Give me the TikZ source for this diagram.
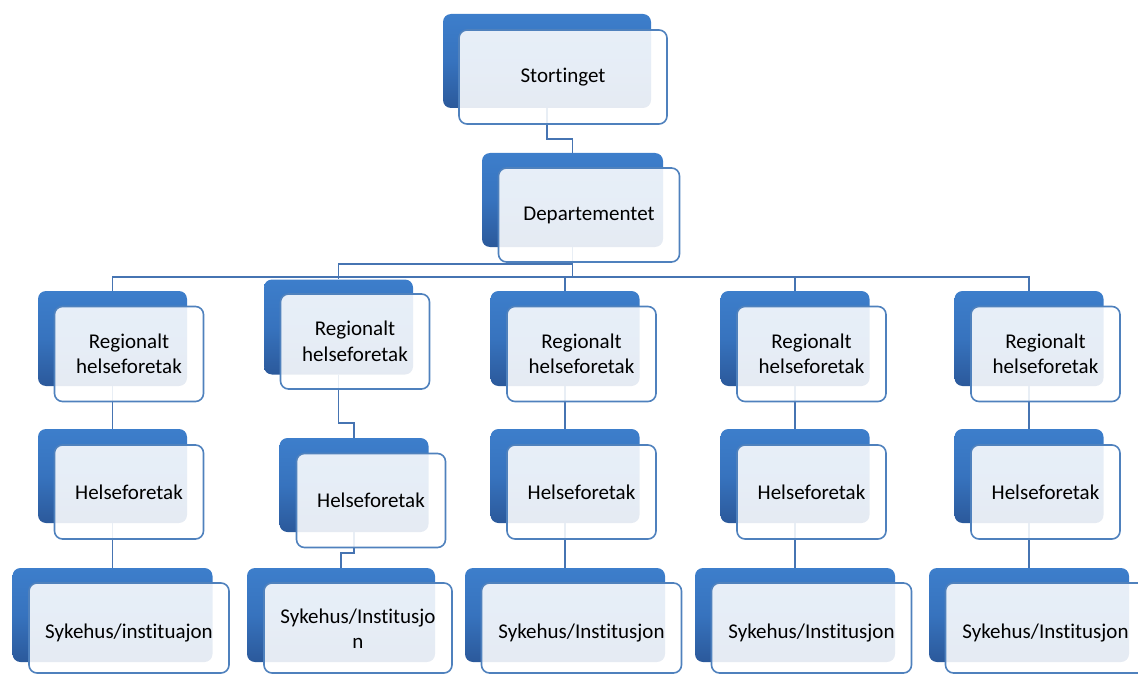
\documentclass[tikz,border=0pt]{standalone}
\usepackage{fontspec}
\setmainfont{Carlito}[Ligatures=NoCommon]
\definecolor{backtop}{RGB}{61,126,203}
\definecolor{backmid}{RGB}{55,115,190}
\definecolor{backbot}{RGB}{43,89,155}
\definecolor{framecol}{RGB}{79,129,189}
\definecolor{wirecol}{RGB}{70,116,178}
\tikzset{
  back/.style={rectangle, rounded corners=8pt, inner sep=0pt, draw=none,
    top color=backtop, bottom color=backbot, middle color=backmid},
  front/.style={rectangle, rounded corners=8pt, inner sep=0pt, draw=framecol,
    line width=1.6pt, fill=white, fill opacity=0.88, text opacity=1,
    align=center, text=black, font=\fontsize{21}{25.5}\selectfont},
  regsize/.style={minimum width=149pt, minimum height=95pt},
  hfsize/.style={minimum width=149pt, minimum height=94pt},
  syksize/.style={minimum width=#1, minimum height=94pt},
  sykfront/.style={minimum width=#1, minimum height=90pt},
  wire/.style={draw=wirecol, line width=1.6pt}
}
% text set a little lower than the centre of its card
\newcommand{\lowertext}[2]{\raisebox{-#1}[\height][\depth]{\begin{tabular}{@{}c@{}}#2\end{tabular}}}
\begin{document}
\begin{tikzpicture}[x=1pt, y=-1pt]
\useasboundingbox (0,0) rectangle (1138,674);
\clip (0,0) rectangle (1138,674);

% back plates
\node[back, minimum width=208pt, minimum height=94pt] (st) at (547,61) {};
\node[back, minimum width=181pt, minimum height=94pt] (dep) at (572.5,200) {};
\node[back, regsize] (r2) at (338.5,327) {};
\node[back, hfsize] (h2) at (354,485) {};
\node[back, syksize=188pt] (s2) at (341,615) {};
\foreach \n/\x in {1/112.5, 3/565, 4/795, 5/1029} {
  \node[back, regsize] (r\n) at (\x,338.5) {};
  \node[back, hfsize] (h\n) at (\x,476) {};
  \node[back, syksize=200pt] (s\n) at (\x,615) {};
}

% connectors
\draw[wire] (st.south) -- ++(0,31) -| (dep.north);
\draw[wire] (dep.south) -- ++(0,30) coordinate (bus);
\draw[wire] (dep.south) -- ++(0,17) -| (r2.north);
\foreach \n in {1,3,4,5} {
  \draw[wire] (r\n.north) |- (bus);
  \draw[wire] (r\n.south) -- (h\n.north);
  \draw[wire] (h\n.south) -- (s\n.north);
}
\draw[wire] (r2.south) -- ++(0,48) -| (h2.north);
\draw[wire] (h2.south) -- ++(0,21) -| (s2.north);

% front cards
\node[front, minimum width=208pt, minimum height=94pt] (stF) at (563,77) {Stortinget};
\node[front, minimum width=181pt, minimum height=94pt] (depF) at (589,215) {Departementet};
\node[front, regsize] (r2F) at (355,341.5) {Regionalt\\helseforetak};
\node[front, hfsize] (h2F) at (371,500.5) {Helseforetak};
\node[front, sykfront=188pt] (s2F) at (358,628) {\lowertext{3pt}{Sykehus/Institusjo\\n}};
\node[front, regsize] (r1F) at (129,354) {Regionalt\\helseforetak};
\node[front, hfsize] (h1F) at (129,492) {Helseforetak};
\node[front, sykfront=200pt] (s1F) at (129,628) {\lowertext{5pt}{Sykehus/instituajon}};
\foreach \n/\x in {3/581.5, 4/811.5, 5/1045.5} {
  \node[front, regsize] (r\n F) at (\x,354) {Regionalt\\helseforetak};
  \node[front, hfsize] (h\n F) at (\x,492) {Helseforetak};
  \node[front, sykfront=200pt] (s\n F) at (\x,628) {\lowertext{5pt}{Sykehus/Institusjon}};
}
\end{tikzpicture}
\end{document}
